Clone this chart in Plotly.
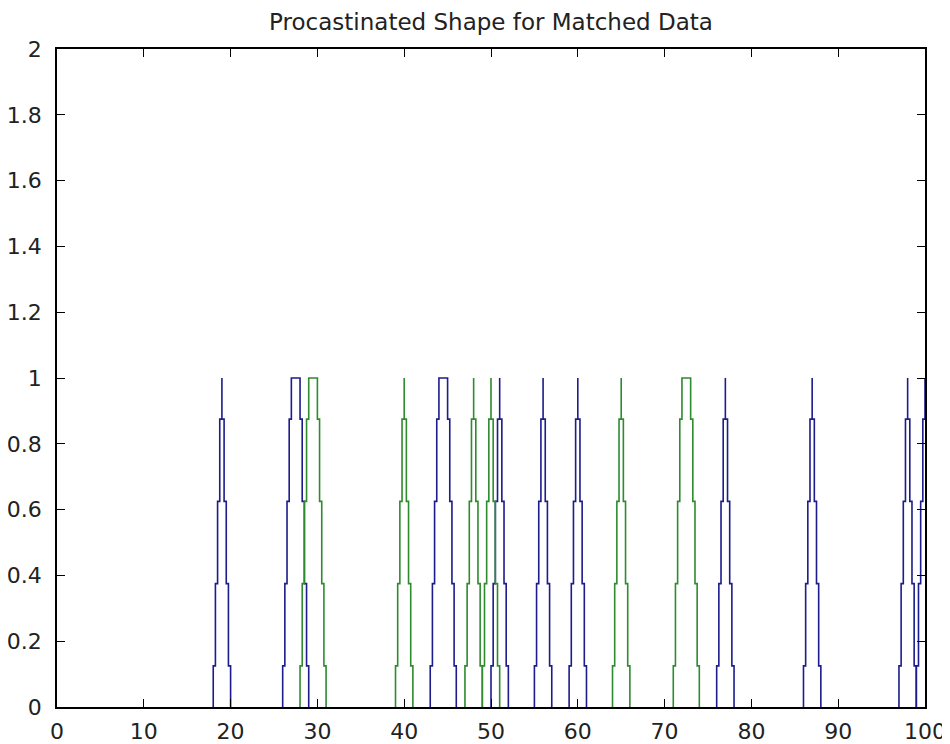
import plotly.graph_objects as go

# ---- data ----
title_text = "Procastinated Shape for Matched Data"

# blue pulses: rise start, rise end (top start), fall start (top end), fall end
blue_rise_start = [18, 26, 43, 50, 55, 59, 76, 86, 97, 99]
blue_top_start  = [19, 27, 44, 51, 56, 60, 77, 87, 98, 100]
blue_top_end    = [19, 28, 45, 51, 56, 60, 77, 87, 98, 100]
blue_fall_end   = [20, 29, 46, 52, 57, 61, 78, 88, 99, 101]

green_rise_start = [28, 39, 47, 49, 64, 71]
green_top_start  = [29, 40, 48, 50, 65, 72]
green_top_end    = [30, 40, 48, 50, 65, 73]
green_fall_end   = [31, 41, 49, 51, 66, 74]

step_levels = [0.125, 0.375, 0.625, 0.875]   # quantisation jogs of the shape

x_ticks = list(range(0, 101, 10))
y_ticks = [0, 0.2, 0.4, 0.6, 0.8, 1, 1.2, 1.4, 1.6, 1.8, 2]
y_tick_text = ["0", "0.2", "0.4", "0.6", "0.8", "1", "1.2", "1.4", "1.6", "1.8", "2"]


def stair_pulse(a, b, c, e):
    """Quantised pulse: rises a->b, flat b->c at 1, falls c->e."""
    n = len(step_levels)
    xs, ys = [a], [0.0]
    for i, lv in enumerate(step_levels):
        xs += [a + (b - a) * i / n, a + (b - a) * (i + 1) / n]
        ys += [lv, lv]
    xs += [b, c]
    ys += [1.0, 1.0]
    for i, lv in enumerate(reversed(step_levels)):
        xs += [c + (e - c) * i / n, c + (e - c) * (i + 1) / n]
        ys += [lv, lv]
    xs += [e]
    ys += [0.0]
    return xs, ys


def series(rs, ts, te, fe):
    X, Y = [], []
    for a, b, c, e in zip(rs, ts, te, fe):
        xs, ys = stair_pulse(a, b, c, e)
        X += xs + [None]
        Y += ys + [None]
    return X, Y


bx, by = series(blue_rise_start, blue_top_start, blue_top_end, blue_fall_end)
gx, gy = series(green_rise_start, green_top_start, green_top_end, green_fall_end)

fig = go.Figure()
fig.add_trace(go.Scatter(x=bx, y=by, mode="lines",
                         line=dict(color="#1c1c8c", width=1.6), showlegend=False))
fig.add_trace(go.Scatter(x=gx, y=gy, mode="lines",
                         line=dict(color="#2e8b2e", width=1.6), showlegend=False))

font = dict(family="DejaVu Sans", size=22, color="#222222")
title_font = dict(family="DejaVu Sans", size=23, color="#222222")

# page body has an 8px margin, so the figure is sized to fit inside the window
fig.update_layout(
    width=942, height=736,
    margin=dict(l=49, r=25, t=41, b=37, autoexpand=False),
    paper_bgcolor="white", plot_bgcolor="white",
    font=font,
    title=dict(text=title_text, xref="paper", x=0.5, xanchor="center",
               y=1 - 14 / 736, yanchor="middle", font=title_font),
)
fig.update_xaxes(range=[0, 100], tickvals=x_ticks, ticks="inside", ticklen=8,
                 tickcolor="black", showline=True, linecolor="black", linewidth=1.5,
                 mirror="ticks", showgrid=False, zeroline=False, tickfont=font,
                 automargin=False, ticklabelstandoff=4)
fig.update_yaxes(range=[0, 2], tickvals=y_ticks, ticktext=y_tick_text, ticks="inside",
                 ticklen=8, tickcolor="black", showline=True, linecolor="black",
                 linewidth=1.5, mirror="ticks", showgrid=False, zeroline=False,
                 tickfont=font, automargin=False, ticklabelstandoff=9)

fig.write_html("out.html")
